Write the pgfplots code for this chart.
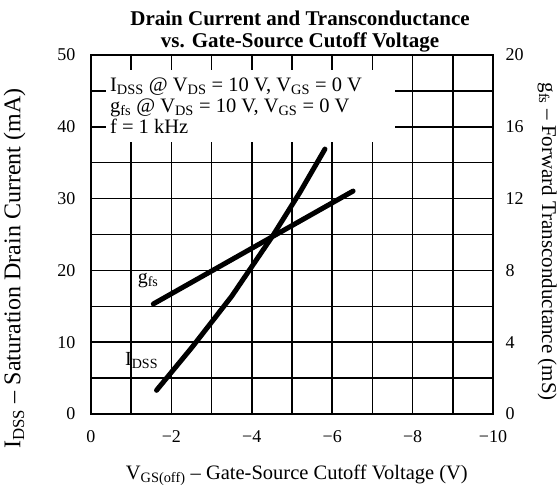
\documentclass[border=0pt]{standalone}
\usepackage{fontspec}
\setmainfont{Liberation Serif}
\usepackage{pgfplots}
\pgfplotsset{compat=1.18}
\begin{document}
\begin{tikzpicture}[x=1pt,y=1pt]
\useasboundingbox (0,0) rectangle (558,490);
\begin{axis}[
  at={(91pt,76pt)}, anchor=south west,
  scale only axis, width=402pt, height=359pt,
  xmin=-10, xmax=0, x dir=reverse,
  ymin=0, ymax=50,
  xtick={0,-1,-2,-3,-4,-5,-6,-7,-8,-9,-10},
  xticklabels={0,,−2,,−4,,−6,,−8,,−10},
  ytick={0,5,10,15,20,25,30,35,40,45,50},
  yticklabels={0,,10,,20,,30,,40,,50},
  grid=major,
  major grid style={black, line width=1.5pt},
  axis line style={black, line width=1.8pt},
  major tick length=0pt,
  tick label style={font=\fontsize{18}{18}\selectfont},
  yticklabel style={xshift=-12pt},
  xticklabel style={yshift=-13pt},
  xlabel={V\textsubscript{GS(off)} – Gate-Source Cutoff Voltage (V)},
  xlabel style={font=\fontsize{20.5}{24}\selectfont, at={(axis description cs:0.512,-0.172)}, anchor=center},
  ylabel={I\textsubscript{DSS} – Saturation Drain Current (mA)},
  ylabel style={font=\fontsize{24}{26}\selectfont, at={(axis description cs:-0.19,0.405)}, anchor=center},
  clip=false,
]
\fill[white] (axis cs:-0.37,37.9) rectangle (axis cs:-7.56,47.9);
\node[anchor=north west, align=left, font=\fontsize{20.5}{21}\selectfont, inner sep=0pt] at (axis cs:-0.47,46.8)
  {I\textsubscript{DSS} @ V\textsubscript{DS} = 10 V, V\textsubscript{GS} = 0 V\\
   g\textsubscript{fs} @ V\textsubscript{DS} = 10 V, V\textsubscript{GS} = 0 V\\
   f = 1 kHz};
\addplot[black, line width=5pt, line cap=round, line join=round] coordinates {
  (-1.63,3.3) (-2.5,9.2) (-3.5,16.4) (-4.53,24.9) (-5.2,30.9) (-5.82,36.9)
};
\node[font=\fontsize{20}{22}\selectfont] at (axis cs:-1.26,7.5) {I\textsubscript{DSS}};
\node[font=\fontsize{20}{22}\selectfont] at (axis cs:-1.42,18.6) {g\textsubscript{fs}};
\end{axis}
\begin{axis}[
  at={(91pt,76pt)}, anchor=south west,
  scale only axis, width=402pt, height=359pt,
  xmin=-10, xmax=0, x dir=reverse,
  ymin=0, ymax=20,
  axis x line=none,
  axis y line*=right,
  axis line style={black, line width=1.8pt},
  ytick={0,4,8,12,16,20},
  yticklabels={0,4,8,12,16,20},
  major tick length=0pt,
  tick label style={font=\fontsize{18}{18}\selectfont},
  yticklabel style={xshift=9pt},
  ylabel={g\textsubscript{fs} – Forward Transconductance (mS)},
  ylabel style={font=\fontsize{21}{24}\selectfont, rotate=180, at={(axis description cs:1.135,0.48)}, anchor=center},
  clip=false,
]
\addplot[black, line width=5pt, line cap=round] coordinates {
  (-1.55,6.13) (-6.52,12.42)
};
\end{axis}
\node[font=\bfseries\fontsize{21}{22}\selectfont, align=center] at (300,458)
  {Drain Current and Transconductance\\vs. Gate-Source Cutoff Voltage};
\end{tikzpicture}
\end{document}
